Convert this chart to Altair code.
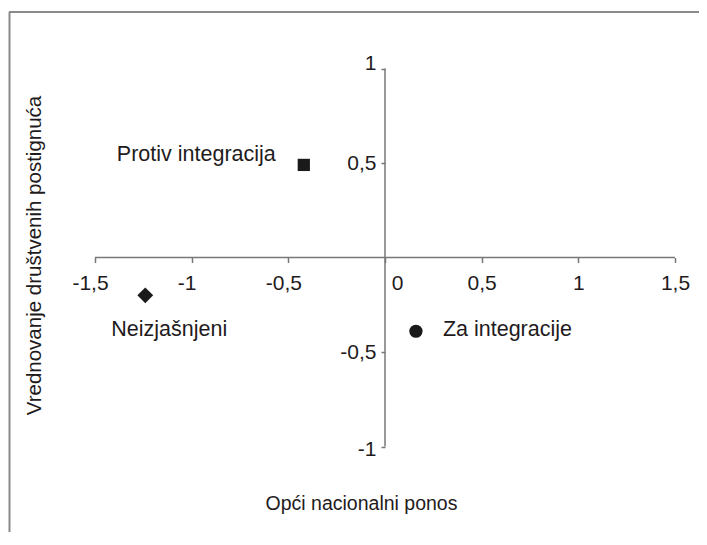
import altair as alt
import pandas as pd

# ---- data ----
categories = ["Protiv integracija", "Neizjašnjeni", "Za integracije"]
x_values = [-0.42, -1.24, 0.16]
y_values = [0.49, -0.20, -0.39]

x_ticks = [-1.5, -1, -0.5, 0, 0.5, 1, 1.5]
y_ticks = [-1, -0.5, 0.5, 1]
x_title = "Opći nacionalni ponos"
y_title = "Vrednovanje društvenih postignuća"

df = pd.DataFrame({"cat": categories, "x": x_values, "y": y_values})
axis_df = pd.DataFrame({
    "x": [min(x_ticks), 0], "x2": [max(x_ticks), 0],
    "y": [0, min(y_ticks)], "y2": [0, max(y_ticks)],
})

# ---- style ----
W, H = 690, 520
FONT = "Liberation Sans"
TXT = "#1f1b1c"
AX = "#777777"
FRAME = "#8a8a8a"

xscale = alt.Scale(domain=[-1.9448, 1.6241], nice=False, zero=False)
yscale = alt.Scale(domain=[-1.452, 1.299], nice=False, zero=False)

x_axis = alt.Axis(
    values=x_ticks, orient="bottom", offset=-(H - 245.5), domain=False, grid=False,
    tickSize=5, tickColor=AX, tickWidth=1.5,
    labelFont=FONT, labelFontSize=21, labelColor=TXT, labelPadding=10,
    labelFlush=False, labelOverlap=False,
    labelExpr="replace(toString(datum.value), '.', ',')",
    labelOffset={"condition": [{"test": "datum.value == 0", "value": 12},
                               {"test": "datum.value < 0", "value": -5}], "value": 0},
    title=x_title, titleFont=FONT, titleFontSize=19.5, titleFontWeight="normal",
    titleColor=TXT, titleX=352, titleY=246, titleAlign="center", titleBaseline="middle",
)
y_axis = alt.Axis(
    values=y_ticks, orient="left", offset=-376, domain=False, grid=False,
    tickSize=4, tickColor=AX, tickWidth=1.5,
    labelFont=FONT, labelFontSize=21, labelColor=TXT, labelPadding=5,
    labelFlush=False, labelOverlap=False,
    labelExpr="replace(toString(datum.value), '.', ',')",
    labelOffset={"condition": [{"test": "datum.value == 1", "value": -5},
                               {"test": "datum.value == -1", "value": 3}], "value": 0},
    title=y_title, titleFont=FONT, titleFontSize=20.5, titleFontWeight="normal",
    titleColor=TXT, titleX=-351, titleY=243, titleAlign="center", titleBaseline="middle",
    titleAngle=270,
)

base = alt.Chart(df)

marker_style = {
    "Protiv integracija": dict(shape="square", size=150),
    "Neizjašnjeni": dict(shape="diamond", size=250),
    "Za integracije": dict(shape="circle", size=175),
}
label_style = {
    "Protiv integracija": dict(align="right", dx=-28, dy=-10),
    "Neizjašnjeni": dict(align="center", dx=24, dy=35),
    "Za integracije": dict(align="left", dx=27, dy=-1),
}

layers = []
for i, c in enumerate(categories):
    sub = base.transform_filter(alt.datum.cat == c)
    if i == 0:
        enc = dict(x=alt.X("x:Q", scale=xscale, axis=x_axis),
                   y=alt.Y("y:Q", scale=yscale, axis=y_axis))
    else:
        enc = dict(x="x:Q", y="y:Q")
    layers.append(
        sub.mark_point(filled=True, opacity=1, color="#1a1a1a", **marker_style[c]).encode(**enc)
    )
    layers.append(
        sub.mark_text(font=FONT, fontSize=21.5, color=TXT, baseline="middle", **label_style[c])
        .encode(x="x:Q", y="y:Q", text="cat:N")
    )

axis_lines = alt.Chart(axis_df).mark_rule(color=AX, strokeWidth=1.5).encode(
    x="x:Q", x2="x2:Q", y="y:Q", y2="y2:Q"
)

frame_top = alt.Chart(alt.Data(values=[{}])).mark_rule(color=FRAME, strokeWidth=2).encode(
    x=alt.value(0), x2=alt.value(W), y=alt.value(0)
)
frame_left = alt.Chart(alt.Data(values=[{}])).mark_rule(color=FRAME, strokeWidth=2).encode(
    x=alt.value(0.5), y=alt.value(0), y2=alt.value(H)
)

chart = alt.layer(*layers, axis_lines, frame_top, frame_left).properties(
    width=W, height=H,
    autosize=alt.AutoSizeParams(type="none"),
    padding={"left": 1, "top": 4, "right": 0, "bottom": 0},
).configure_view(stroke=None).configure(background="white")

chart.save("out.html", embed_options={"renderer": "svg", "actions": False})
